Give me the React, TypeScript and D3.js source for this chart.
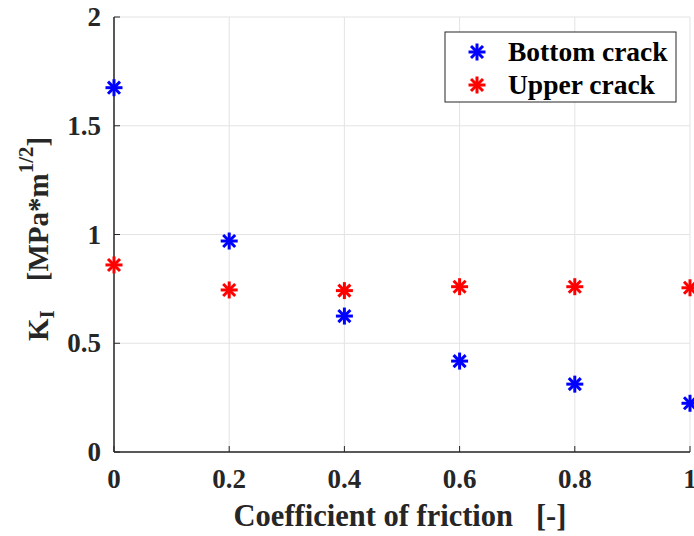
import React from "react";
import * as d3 from "d3";

const frictionValues = [0, 0.2, 0.4, 0.6, 0.8, 1];
const bottomCrack = [1.675, 0.97, 0.625, 0.418, 0.312, 0.224];
const upperCrack = [0.86, 0.745, 0.742, 0.76, 0.76, 0.755];
const xTicks = [0, 0.2, 0.4, 0.6, 0.8, 1];
const yTicks = [0, 0.5, 1, 1.5, 2];
const seriesNames = ["Bottom crack", "Upper crack"];
const seriesColors = ["#0000ff", "#ff0000"];

const W = 694;
const H = 536;
const left = 114;
const right = 690;
const top = 17;
const bottom = 452;
const FONT = "'Liberation Serif', 'Times New Roman', serif";

function Star({ x, y, color }: { x: number; y: number; color: string }) {
  const r = 8.5;
  const d = r * Math.SQRT1_2;
  return (
    <g stroke={color} strokeWidth={3} strokeLinecap="butt">
      <line x1={x - r} y1={y} x2={x + r} y2={y} />
      <line x1={x} y1={y - r} x2={x} y2={y + r} />
      <line x1={x - d} y1={y - d} x2={x + d} y2={y + d} />
      <line x1={x - d} y1={y + d} x2={x + d} y2={y - d} />
    </g>
  );
}

export default function App() {
  const xs = d3.scaleLinear().domain([0, 1]).range([left, right]);
  const ys = d3.scaleLinear().domain([0, 2]).range([bottom, top]);
  const series = [bottomCrack, upperCrack];
  const axisColor = "#262626";
  const fmt = (v: number) => String(v);

  return (
    <svg width={W} height={H} style={{ position: "absolute", left: 0, top: 0, background: "#fff" }} fontFamily={FONT} fontWeight="bold">
      <rect width={W} height={H} fill="#fff" />
      {xTicks.map((t) => (
        <line key={"gx" + t} x1={xs(t)} x2={xs(t)} y1={top} y2={bottom} stroke="#e3e3e3" strokeWidth={1} />
      ))}
      {yTicks.map((t) => (
        <line key={"gy" + t} x1={left} x2={right} y1={ys(t)} y2={ys(t)} stroke="#e3e3e3" strokeWidth={1} />
      ))}
      <line x1={left} x2={left} y1={top} y2={bottom} stroke={axisColor} strokeWidth={1.5} />
      <line x1={left} x2={right} y1={bottom} y2={bottom} stroke={axisColor} strokeWidth={1.5} />
      {xTicks.map((t) => (
        <line key={"tx" + t} x1={xs(t)} x2={xs(t)} y1={bottom} y2={bottom - 6} stroke={axisColor} strokeWidth={1} />
      ))}
      {yTicks.map((t) => (
        <line key={"ty" + t} x1={left} x2={left + 6} y1={ys(t)} y2={ys(t)} stroke={axisColor} strokeWidth={1} />
      ))}
      {xTicks.map((t) => (
        <text key={"lx" + t} x={xs(t)} y={bottom + 36} textAnchor="middle" fontSize={27} fill={axisColor}>
          {fmt(t)}
        </text>
      ))}
      {yTicks.map((t) => (
        <text key={"ly" + t} x={left - 13} y={ys(t) + 9} textAnchor="end" fontSize={27} fill={axisColor}>
          {fmt(t)}
        </text>
      ))}
      {series.map((vals, si) =>
        vals.map((v, i) => (
          <Star key={si + "-" + i} x={xs(frictionValues[i])} y={ys(v)} color={seriesColors[si]} />
        ))
      )}
      <text x={400} y={526} textAnchor="middle" fontSize={30.5} fill={axisColor} xmlSpace="preserve">
        {"Coefficient of friction   [-]"}
      </text>
      <g transform="translate(48,341) rotate(-90)">
        <text x={0} y={0} fontSize={29} fill={axisColor} xmlSpace="preserve">
          <tspan>K</tspan>
          <tspan fontSize={21} dy={6}>I</tspan>
          <tspan dy={-6}>{"    [MPa*m"}</tspan>
          <tspan fontSize={21} dy={-15}>1/2</tspan>
          <tspan dy={15}>]</tspan>
        </text>
      </g>
      <rect x={445} y={32} width={231} height={70} fill="#fff" stroke={axisColor} strokeWidth={1} />
      {seriesNames.map((n, i) => (
        <g key={n}>
          <Star x={477} y={52 + i * 33} color={seriesColors[i]} />
          <text x={508} y={61 + i * 33} fontSize={27.5} fill="#000">
            {n}
          </text>
        </g>
      ))}
    </svg>
  );
}
